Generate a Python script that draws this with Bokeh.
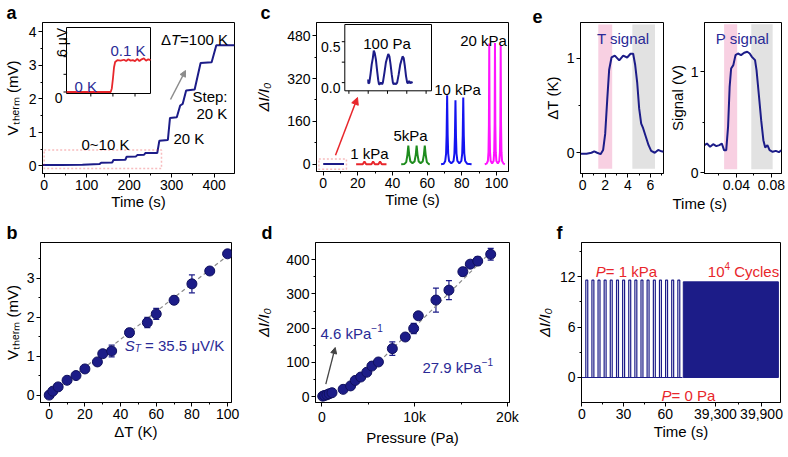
import math
from bokeh.plotting import figure
from bokeh.layouts import row, column
from bokeh.models import (Range1d, FixedTicker, Label, Arrow, NormalHead, Title,
                          BoxAnnotation, Whisker, TeeHead, ColumnDataSource)
from bokeh.embed import file_html
from bokeh.resources import INLINE

# ---------------- data ----------------
# (a) thermovoltage vs time
a_time = [-4, 40, 90, 130, 134, 160, 163, 191, 194, 216, 219, 235, 238, 266, 271, 291,
          296, 312, 320, 326, 334, 354, 368, 394, 405, 448]
a_volt = [0.02, 0.02, 0.03, 0.05, 0.09, 0.10, 0.17, 0.18, 0.27, 0.28, 0.32, 0.33, 0.38,
          0.38, 0.75, 0.77, 1.43, 1.45, 1.80, 1.85, 2.25, 2.28, 3.07, 3.09, 3.60, 3.60]
# (a) inset: 0 K -> 0.1 K step (uV)
ain_time = [-0.1, 0.5, 1.0, 1.5, 1.9, 1.95, 2.0, 2.05, 2.1, 2.2, 2.35, 2.5, 2.6, 2.7,
            2.8, 2.9, 3.0, 3.1, 3.2, 3.3, 3.4, 3.5, 3.6, 3.7]
ain_volt = [0, 0, 0, 0, 0, 0.4, 1.5, 2.8, 3.4, 3.6, 3.55, 3.65, 3.5, 3.7, 3.55, 3.6,
            3.5, 3.75, 3.5, 3.7, 3.8, 3.55, 3.7, 3.6]
ain_yticks = [0, 2, 4, 6]
ain_xticks = [1, 2, 3]
# (b) Vtherm vs dT
b_dT = [0, 2, 5, 10, 15, 20, 27, 30, 35, 45, 55, 60, 70, 80, 90, 100]
b_V = [0.0, 0.10, 0.21, 0.38, 0.50, 0.67, 0.85, 1.06, 1.13, 1.60, 1.86, 2.08, 2.43,
       2.85, 3.18, 3.62]
b_err = [0.03, 0.03, 0.03, 0.03, 0.03, 0.03, 0.04, 0.04, 0.15, 0.10, 0.13, 0.14, 0.10,
         0.23, 0.07, 0.04]
b_fit_dT = [0, 100]
b_fit_V = [0.0, 3.57]
# (c) current response
c100_t = [0, 12]
c100_v = [1, 1]
c1_t = [19, 22.8, 23.8, 24.8, 27.8, 28.8, 29.8, 31.8, 32.8, 33.8, 36.5]
c1_v = [0, 0, 10, 0, 0, 10, 0, 0, 10, 0, 0]
c5_t = [45, 46.9, 47.9, 48.6, 49.1, 49.6, 50.3, 51.5, 52.7, 53.4, 53.9, 54.4, 55.1, 56.2,
        57.4, 58.1, 58.6, 59.1, 59.8, 60.8, 61.5]
c5_v = [0, 1, 8, 36, 70, 36, 10, 4, 10, 36, 70, 36, 10, 4, 10, 36, 70, 36, 8, 1, 0]
c10_t = [68, 69.6, 70.4, 70.9, 71.2, 71.5, 71.8, 72.1, 72.6, 73.9, 75.2, 75.7, 76.0, 76.3,
         76.6, 76.9, 77.4, 78.55, 79.7, 80.2, 80.5, 80.8, 81.1, 81.4, 81.9, 83.0, 85.6]
c10_v = [0, 2, 12, 40, 110, 258, 110, 40, 12, 3, 12, 40, 105, 239, 105, 40, 12, 3, 12, 40,
         108, 249, 108, 40, 12, 2, 0]
c20_t = [93.2, 94.3, 95.0, 95.35, 95.6, 95.8, 96.0, 96.25, 96.6, 97.45, 98.3, 98.65, 98.9,
         99.1, 99.3, 99.55, 99.9, 100.75, 101.6, 101.95, 102.2, 102.4, 102.6, 102.85,
         103.2, 104.0, 104.8]
c20_v = [0, 2, 12, 45, 150, 451, 150, 45, 12, 3, 12, 45, 150, 453, 150, 45, 12, 3, 12, 45,
         150, 445, 150, 45, 12, 2, 0]
# (c) inset: 100 Pa
cin_t = [0, 0.05, 0.3, 0.6, 0.9, 1.2, 1.45, 1.7, 2.0, 2.3, 2.6, 2.8, 3.0, 3.3, 3.6, 3.8,
         4.2, 4.6, 4.9, 5.2, 5.5, 5.8, 6.1, 6.4, 6.6, 6.9, 7.2, 7.5, 7.9, 8.3, 8.6, 8.9,
         9.2, 9.5, 9.8, 10.1, 10.3, 10.6, 10.9, 11.2, 11.4]
cin_v = [0.04, -0.01, 0.0, 0.1, 0.22, 0.3, 0.39, 0.36, 0.28, 0.15, 0.03, -0.02, -0.02,
         0.0, -0.02, 0.0, 0.12, 0.25, 0.3, 0.35, 0.32, 0.22, 0.1, 0.0, -0.02, -0.01,
         -0.02, 0.0, 0.1, 0.22, 0.27, 0.32, 0.3, 0.2, 0.08, 0.0, -0.01, 0.02, -0.01,
         0.01, -0.01]
cin_xticks = [-5, 0, 5, 10, 15]
cin_yticks = [0, 0.25, 0.5]
# (d) response vs pressure
d_P = [100, 300, 550, 800, 1100, 2300, 3100, 3600, 4200, 4850, 5400, 6100, 7600, 9000,
       9900, 10400, 12300, 13700, 15200, 16000, 16800, 18200]
d_R = [1, 3, 5, 8, 11, 21, 31, 47, 57, 71, 89, 101, 140, 174, 199, 236, 282, 311, 365,
       387, 396, 416]
d_err = [2, 2, 2, 2, 2, 3, 3, 4, 4, 4, 5, 5, 20, 5, 15, 5, 35, 28, 12, 6, 12, 17]
d_fit_P = [3500, 18500]
d_fit_R = [30, 430]
# (e) T and P signals
eT_t = [-0.15, 0.35, 0.79, 1.03, 1.29, 1.59, 1.82, 2.0, 2.18, 2.35, 2.56, 2.85, 3.24,
        3.59, 3.94, 4.24, 4.47, 4.65, 4.83, 5.0, 5.18, 5.35, 5.59, 5.83, 6.06, 6.38,
        6.68, 6.97, 7.15]
eT_v = [-0.01, -0.01, 0.0, 0.015, 0.0, -0.015, 0.03, 0.2, 0.56, 0.88, 1.01, 1.03, 0.98,
        1.03, 1.01, 1.05, 1.05, 0.93, 0.74, 0.47, 0.31, 0.26, 0.17, 0.08, 0.02, 0.0,
        0.03, 0.015, 0.01]
eT_pink = (1.39, 2.62)
eT_grey = (4.4, 6.4)
eP_t = [0.0036, 0.0064, 0.0100, 0.0135, 0.0171, 0.0206, 0.0234, 0.0259, 0.0284, 0.0305,
        0.0323, 0.0340, 0.0365, 0.0390, 0.0418, 0.0453, 0.0489, 0.0524, 0.0552, 0.0577,
        0.0613, 0.0630, 0.0655, 0.0683, 0.0708, 0.0729, 0.0754, 0.0779, 0.0814, 0.0850,
        0.0885, 0.0913]
eP_v = [0.274, 0.29, 0.257, 0.283, 0.264, 0.274, 0.29, 0.224, 0.224, 0.455, 0.851, 1.033,
        1.066, 1.165, 1.181, 1.165, 1.188, 1.198, 1.181, 1.148, 1.115, 1.016, 0.785,
        0.521, 0.323, 0.25, 0.274, 0.224, 0.208, 0.217, 0.204, 0.224]
eP_pink = (0.026, 0.0409)
eP_grey = (0.057, 0.0814)
# (f) cycling
f_start = [2.9, 7.3, 11.7, 16.1, 20.5, 25.0, 29.4, 33.8, 38.2, 42.6, 47.0, 51.5, 55.9,
           60.3, 64.7, 69.1]
f_end = [4.3, 8.7, 13.1, 17.5, 21.9, 26.4, 30.8, 35.2, 39.6, 44.0, 48.4, 52.9, 57.3,
         61.7, 66.1, 70.5]
f_top = [11.6, 11.6, 11.6, 11.6, 11.6, 11.6, 11.6, 11.6, 11.6, 11.6, 11.6, 11.6, 11.6,
         11.6, 11.6, 11.6]
f_base_t = [0, 72.5]
f_base_v = [0, 0]
f_block_t = [38880, 40120]
f_block_top = 11.4
f_late_ticks = [39300, 39900]
f_late_labels = ["39,300", "39,900"]

# ---------------- style ----------------
FONT = "Liberation Sans"
NAVY = "#1c1c88"
TNAVY = "#2a2a96"
RED = "#e8262b"
GREEN = "#1e8c1e"
BLUE = "#1414f0"
MAGENTA = "#ff14ff"
PINK = "#f8d0e2"
GREYBAND = "#e2e2e2"
V_LABEL = "V\u209c\u2095\u2091\u1d63\u2098 (mV)"
I_LABEL = "\u0394I/I\u2080"

W = {}
for ch in "0123456789":
    W[ch] = 556
W.update({' ': 278, '(': 333, ')': 333, '/': 278, '.': 278, ',': 278, '=': 584, '~': 584,
          '-': 333, '\u2212': 584, ':': 278, '\u0394': 668, '\u03bc': 576})
W.update(dict(zip("ABCDEFGHIJKLMNOPQRSTUVWXYZ",
                  [667, 667, 722, 722, 667, 611, 778, 722, 278, 500, 667, 556, 833, 722,
                   778, 667, 778, 722, 667, 611, 722, 667, 944, 667, 667, 611])))
W.update(dict(zip("abcdefghijklmnopqrstuvwxyz",
                  [556, 556, 500, 556, 556, 278, 556, 556, 222, 222, 500, 222, 833, 556,
                   556, 556, 556, 333, 500, 278, 556, 500, 722, 500, 500, 500])))


def tw(s, size):
    return sum(W.get(c, 556) for c in s) * size / 1000.0


def seg(text, size=15, style="normal", shift=0, color="black"):
    return (text, size, style, shift, color)


def rich(p, x, y, segs, vertical=False, anchor="left"):
    total = sum(tw(s[0], s[1]) for s in segs)
    cur = -{"left": 0, "center": total / 2.0, "right": total}[anchor]
    for text, size, style, shift, color in segs:
        stripped = text.lstrip(" ")
        cur += tw(text[:len(text) - len(stripped)], size)
        if vertical:
            lx, ly, ang = x - shift, y - cur, math.pi / 2
        else:
            lx, ly, ang = x + cur, y - shift, 0
        p.add_layout(Label(x=lx, y=ly, x_range_name="px", y_range_name="py", text=stripped,
                           text_font=FONT, text_font_size=f"{size}px", text_font_style=style,
                           text_color=color, text_align="left", text_baseline="alphabetic",
                           angle=ang))
        cur += tw(stripped, size)


INFO = {}


def make_fig(fx0, fx1, fy0, fy1, bl, br, bt, bb, xr, yr, xlabel=None, ylabel=None,
             xls=0, yls=5, ylstyle="normal"):
    fw, fh = fx1 - fx0, fy1 - fy0
    p = figure(width=bl + fw + br, height=bt + fh + bb, frame_width=fw, frame_height=fh,
               min_border_left=bl, min_border_right=br, min_border_top=bt,
               min_border_bottom=bb, x_range=Range1d(*xr), y_range=Range1d(*yr),
               output_backend="svg", toolbar_location=None)
    p.title.visible = False
    p.extra_x_ranges = {"px": Range1d(fx0, fx1)}
    p.extra_y_ranges = {"py": Range1d(fy1, fy0)}
    p.xgrid.visible = False
    p.ygrid.visible = False
    p.outline_line_color = "black"
    p.outline_line_alpha = 1
    p.outline_line_width = 1
    p.background_fill_color = "white"
    p.border_fill_color = "white"
    for ax in (p.xaxis[0], p.yaxis[0]):
        ax.axis_line_color = "black"
        ax.axis_line_width = 1
        ax.major_tick_in = 0
        ax.major_tick_out = 4
        ax.minor_tick_in = 0
        ax.minor_tick_out = 2
        ax.major_tick_line_color = "black"
        ax.minor_tick_line_color = "black"
        ax.major_label_text_font = FONT
        ax.major_label_text_font_size = "14px"
        ax.major_label_text_color = "black"
        ax.major_label_standoff = 2
        ax.axis_label_text_font = FONT
        ax.axis_label_text_font_size = "15px"
        ax.axis_label_text_color = "black"
    if xlabel:
        p.xaxis.axis_label = xlabel
        p.xaxis.axis_label_standoff = xls
        p.xaxis.axis_label_text_font_style = "normal"
    if ylabel:
        p.yaxis.axis_label = ylabel
        p.yaxis.axis_label_standoff = yls
        p.yaxis.axis_label_text_font_style = ylstyle
    INFO[id(p)] = (fx0, fx1, fy0, fy1, xr, yr)
    return p


def letter(p, text, offset):
    t = p.title
    t.text = text
    t.visible = True
    t.align = "left"
    t.offset = offset
    t.standoff = 0
    t.text_font = FONT
    t.text_font_size = "18px"
    t.text_font_style = "bold"
    t.text_color = "black"


def ticks(p, xt, xm, yt, ym, xo=None, yo=None):
    p.xaxis.ticker = FixedTicker(ticks=xt, minor_ticks=xm)
    p.yaxis.ticker = FixedTicker(ticks=yt, minor_ticks=ym)
    if xo:
        p.xaxis.major_label_overrides = xo
    if yo:
        p.yaxis.major_label_overrides = yo


def page_to_data(p, px, py):
    fx0, fx1, fy0, fy1, xr, yr = INFO[id(p)]
    dx = xr[0] + (px - fx0) / (fx1 - fx0) * (xr[1] - xr[0])
    dy = yr[0] + (fy1 - py) / (fy1 - fy0) * (yr[1] - yr[0])
    return dx, dy


def inset(p, box, xsrc, ysrc):
    x0, y0 = page_to_data(p, box[0], box[3])
    x1, y1 = page_to_data(p, box[1], box[2])
    sub = p.subplot(x_source=Range1d(*xsrc), y_source=Range1d(*ysrc),
                    x_target=Range1d(x0, x1), y_target=Range1d(y0, y1))
    sub.quad(left=[xsrc[0]], right=[xsrc[1]], bottom=[ysrc[0]], top=[ysrc[1]],
             fill_color="white", line_color="black", line_width=1)
    ppx = (box[1] - box[0]) / (xsrc[1] - xsrc[0])
    ppy = (box[3] - box[2]) / (ysrc[1] - ysrc[0])
    return sub, ppx, ppy


def arrow(p, xs, ys, xe, ye, color, width=1.5, size=7):
    p.add_layout(Arrow(x_start=xs, y_start=ys, x_end=xe, y_end=ye, x_range_name="px",
                       y_range_name="py", line_color=color, line_width=width,
                       end=NormalHead(size=size, fill_color=color, line_color=color)))


# ---------------- (a) ----------------
fa = make_fig(45, 237, 29, 180, 37, 18, 21, 47, (-4.0, 447.8), (-0.23, 4.277),
              xlabel="Time (s)", ylabel=V_LABEL, yls=5)
letter(fa, "a", -36)
ticks(fa, [0, 100, 200, 300, 400], [50, 150, 250, 350], [0, 1, 2, 3, 4],
      [0.5, 1.5, 2.5, 3.5])
fa.line(a_time, a_volt, line_color=NAVY, line_width=2)
fa.add_layout(BoxAnnotation(left=0, right=276, bottom=-0.08, top=0.47, fill_alpha=0,
                            line_color=RED, line_dash="2 2", line_width=1.5))
sa, sppx, sppy = inset(fa, (69, 153, 34, 100), (-0.1, 3.7), (-0.17, 7.3))
sa.line(ain_time, ain_volt, line_color=RED, line_width=1.8)
sa.segment(x0=[-0.1] * len(ain_yticks), y0=ain_yticks, x1=[-0.1 - 3 / sppx] * len(ain_yticks),
           y1=ain_yticks, line_color="black")
sa.segment(x0=ain_xticks, y0=[-0.17] * 3, x1=ain_xticks, y1=[-0.17 - 3 / sppy] * 3,
           line_color="black")
rich(fa, 65, 104, [seg("0", 14)], anchor="right")
rich(fa, 64, 49, [seg("6 \u03bcV", 14)], vertical=True, anchor="center")
rich(fa, 77, 93, [seg("0 K", 15, color=TNAVY)])
rich(fa, 113, 57, [seg("0.1 K", 15, color=TNAVY)])
rich(fa, 197, 46, [seg("\u0394", 15), seg("T", 15, "italic"), seg("=100 K", 15)],
     anchor="center")
rich(fa, 195, 103, [seg("Step:", 15)])
rich(fa, 199, 120, [seg("20 K", 15)])
rich(fa, 176, 145, [seg("20 K", 15)])
rich(fa, 108, 151, [seg("0~10 K", 15)], anchor="center")
arrow(fa, 173, 106, 188, 77, "#8c8c8c", 1.5, 6)

# ---------------- (c) ----------------
fc = make_fig(315, 507, 29, 178, 60, 23, 21, 49, (-3.87, 106.9), (-27.3, 529.7),
              xlabel="Time (s)", ylabel=I_LABEL, yls=12, ylstyle="italic")
letter(fc, "c", -56)
ticks(fc, [0, 20, 40, 60, 80, 100], [10, 30, 50, 70, 90], [0, 160, 320, 480],
      [80, 240, 400])
fc.line(c100_t, c100_v, line_color=NAVY, line_width=2)
fc.line(c1_t, c1_v, line_color=RED, line_width=2)
fc.line(c5_t, c5_v, line_color=GREEN, line_width=2)
fc.line(c10_t, c10_v, line_color=BLUE, line_width=2)
fc.line(c20_t, c20_v, line_color=MAGENTA, line_width=2)
fc.add_layout(BoxAnnotation(left=-2.5, right=13.4, bottom=-19, top=19, fill_alpha=0,
                            line_color=RED, line_dash="2 2", line_width=1.5))
sc, cppx, cppy = inset(fc, (343.3, 430, 31, 97.3), (-6.06, 16.4), (-0.1, 0.71))
sc.line(cin_t, cin_v, line_color=NAVY, line_width=2)
sc.segment(x0=[-6.06] * 3, y0=cin_yticks, x1=[-6.06 - 3 / cppx] * 3, y1=cin_yticks,
           line_color="black")
sc.segment(x0=cin_xticks, y0=[-0.1] * 5, x1=cin_xticks, y1=[-0.1 - 3 / cppy] * 5,
           line_color="black")
rich(fc, 339, 53, [seg("0.5", 14)], anchor="right")
rich(fc, 339, 94, [seg("0.0", 14)], anchor="right")
rich(fc, 385.5, 50, [seg("100 Pa", 15)], anchor="center")
arrow(fc, 334, 161.7, 356, 104, RED, 1.5, 7)
rich(fc, 368, 160, [seg("1 kPa", 15)], anchor="center")
rich(fc, 409, 142, [seg("5kPa", 15)], anchor="center")
rich(fc, 456, 96, [seg("10 kPa", 15)], anchor="center")
rich(fc, 482, 47, [seg("20 kPa", 15)], anchor="center")

# ---------------- (e) ----------------
fe1 = make_fig(579, 662, 29, 180, 49, 2, 21, 47, (-0.18, 7.15), (-0.22, 1.381),
               ylabel="\u0394T (K)", yls=3)
letter(fe1, "e", -48)
ticks(fe1, [0, 2, 4, 6], [1, 3, 5, 7], [0, 1], [0.5])
fe1.add_layout(BoxAnnotation(left=eT_pink[0], right=eT_pink[1], bottom=-0.17, top=1.36,
                             fill_color=PINK, fill_alpha=1, line_alpha=0, level="underlay"))
fe1.add_layout(BoxAnnotation(left=eT_grey[0], right=eT_grey[1], bottom=-0.17, top=1.36,
                             fill_color=GREYBAND, fill_alpha=1, line_alpha=0,
                             level="underlay"))
fe1.line(eT_t, eT_v, line_color=NAVY, line_width=2)
rich(fe1, 621.7, 45, [seg("T signal", 15, color=TNAVY)], anchor="center")

fe2 = make_fig(699, 776, 29, 180, 35, 4, 21, 47, (0.0036, 0.0915), (-0.007, 1.488),
               ylabel="Signal (V)", yls=2)
ticks(fe2, [0.04, 0.08], [0.02, 0.06], [0, 1], [0.5])
fe2.add_layout(BoxAnnotation(left=eP_pink[0], right=eP_pink[1], bottom=0.036, top=1.47,
                             fill_color=PINK, fill_alpha=1, line_alpha=0, level="underlay"))
fe2.add_layout(BoxAnnotation(left=eP_grey[0], right=eP_grey[1], bottom=0.036, top=1.47,
                             fill_color=GREYBAND, fill_alpha=1, line_alpha=0,
                             level="underlay"))
fe2.line(eP_t, eP_v, line_color=NAVY, line_width=2)
rich(fe2, 737, 45, [seg("P signal", 15, color=TNAVY)], anchor="center")
fe2.add_layout(Title(text="Time (s)", align="left", offset=-32, standoff=0,
                     text_font=FONT, text_font_size="15px", text_font_style="normal",
                     text_color="black"), "below")

# ---------------- (b) ----------------
fb = make_fig(43, 234, 249, 409, 35, 21, 22, 40, (-4.9, 102.2), (-0.19, 3.91),
              xlabel="\u0394T (K)", ylabel=V_LABEL, xls=1, yls=3)
letter(fb, "b", -34)
ticks(fb, [0, 20, 40, 60, 80, 100], [10, 30, 50, 70, 90], [0, 1, 2, 3],
      [0.5, 1.5, 2.5, 3.5])
fb.line(b_fit_dT, b_fit_V, line_color="#8a8a8a", line_width=1.2, line_dash="4 3")
bsrc = ColumnDataSource(dict(x=b_dT, y=b_V, up=[v + e for v, e in zip(b_V, b_err)],
                             lo=[v - e for v, e in zip(b_V, b_err)]))
fb.add_layout(Whisker(source=bsrc, base="x", upper="up", lower="lo", dimension="height",
                      line_color=NAVY, line_width=1.2,
                      upper_head=TeeHead(size=6, line_color=NAVY, line_width=1.2),
                      lower_head=TeeHead(size=6, line_color=NAVY, line_width=1.2)))
fb.scatter("x", "y", source=bsrc, size=10, fill_color=NAVY, line_color="#10105e")
rich(fb, 177, 352, [seg("S", 15, "italic", 0, TNAVY), seg("T", 10, "italic", -3, TNAVY),
                    seg(" = 35.5 \u03bcV/K", 15, "normal", 0, TNAVY)], anchor="center")

# ---------------- (d) ----------------
fd = make_fig(313, 507, 249, 409, 58, 23, 22, 40, (-679, 20226), (-17.5, 450.3),
              xlabel="Pressure (Pa)", ylabel=I_LABEL, xls=1, yls=11, ylstyle="italic")
letter(fd, "d", -54)
ticks(fd, [0, 10000, 20000], [5000, 15000], [0, 100, 200, 300, 400], [50, 150, 250, 350],
      xo={0: "0", 10000: "10k", 20000: "20k"})
fd.line(d_fit_P, d_fit_R, line_color="#8a8a8a", line_width=1.2, line_dash="4 3")
dsrc = ColumnDataSource(dict(x=d_P, y=d_R, up=[v + e for v, e in zip(d_R, d_err)],
                             lo=[v - e for v, e in zip(d_R, d_err)]))
fd.add_layout(Whisker(source=dsrc, base="x", upper="up", lower="lo", dimension="height",
                      line_color=NAVY, line_width=1.2,
                      upper_head=TeeHead(size=6, line_color=NAVY, line_width=1.2),
                      lower_head=TeeHead(size=6, line_color=NAVY, line_width=1.2)))
fd.scatter("x", "y", source=dsrc, size=10, fill_color=NAVY, line_color="#10105e")
arrow(fd, 323.3, 390.7, 332.7, 354, "#444444", 1.3, 6)
rich(fd, 318, 340, [seg("4.6 kPa", 15, color=TNAVY), seg("\u22121", 10, "normal", 6, TNAVY)])
rich(fd, 420, 374, [seg("27.9 kPa", 15, color=TNAVY), seg("\u22121", 10, "normal", 6, TNAVY)])

# ---------------- (f) ----------------
main_xr = (-0.2, 142.96)
late_xr = (37553.0, 40147.5)
ff = make_fig(578, 777, 249, 409, 48, 3, 22, 40, main_xr, (-2.98, 16.09),
              xlabel="Time (s)", ylabel=I_LABEL, xls=1, yls=4, ylstyle="italic")
letter(ff, "f", -25)
ff.extra_x_ranges["late"] = Range1d(*late_xr)


def late_pos(t):
    return round(main_xr[0] + (t - late_xr[0]) / (late_xr[1] - late_xr[0])
                 * (main_xr[1] - main_xr[0]), 3)


late_major = [late_pos(t) for t in f_late_ticks]
xo = {0: "0", 30: "30", 60: "60"}
for v, s in zip(late_major, f_late_labels):
    xo[v] = s
ticks(ff, [0, 30, 60] + late_major, [15, 45, late_pos(39600)], [0, 6, 12], [3, 9, 15],
      xo=xo)
ff.line(f_base_t, f_base_v, line_color=NAVY, line_width=1.2)
ff.quad(left=f_start, right=f_end, bottom=[0] * len(f_start), top=f_top, fill_alpha=0,
        line_color=NAVY, line_width=1.2)
ff.quad(left=[f_block_t[0]], right=[f_block_t[1]], bottom=[0], top=[f_block_top],
        fill_color=NAVY, line_color=NAVY, x_range_name="late")
rich(ff, 623, 278, [seg("P", 15, "italic", 0, RED), seg("= 1 kPa", 15, "normal", 0, RED)],
     anchor="center")
rich(ff, 740, 278, [seg("10", 15, color=RED), seg("4", 10, "normal", 6, RED),
                    seg(" Cycles", 15, color=RED)], anchor="center")
rich(ff, 685, 402, [seg("P", 15, "italic", 0, RED), seg("= 0 Pa", 15, "normal", 0, RED)],
     anchor="center")

layout = column(row(fa, fc, fe1, fe2), row(fb, fd, ff))
open("out.html", "w").write(file_html(layout, INLINE, title="figure"))
